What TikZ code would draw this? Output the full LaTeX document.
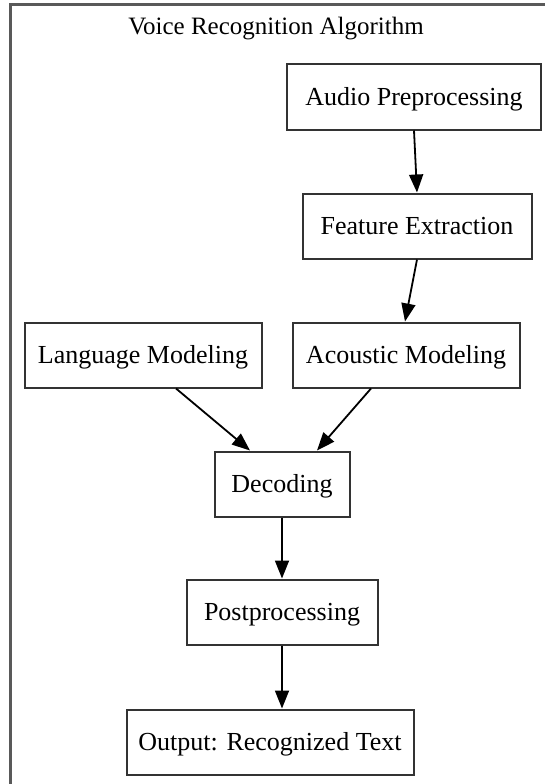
\documentclass[tikz,border=0pt]{standalone}
\usepackage{fontspec}
\setmainfont{Liberation Serif}
\usetikzlibrary{arrows.meta}
\begin{document}
\begin{tikzpicture}[x=1pt,y=-1pt,
  box/.style={draw=black!80, line width=2pt, fill=white, minimum height=65pt, inner sep=0pt, text height=23pt, text depth=6pt, font=\fontsize{26}{30}\selectfont},
  conn/.style={line width=1.8pt, -{Triangle[length=18pt,width=14pt]}}]
\useasboundingbox (0,0) rectangle (545,784);
\clip (0,0) rectangle (545,784);
\draw[black!65, line width=3pt] (10,5) rectangle (580,820);
\node[font=\fontsize{25}{30}\selectfont] (title) at (276,29) {Voice Recognition Algorithm};
\node[box, minimum width=254pt] (audio) at (414,97) {Audio Preprocessing};
\node[box, minimum width=229pt] (feat) at (417,226) {Feature Extraction};
\node[box, minimum width=237pt] (lang) at (143,355) {Language Modeling};
\node[box, minimum width=227pt] (acou) at (406,355) {Acoustic Modeling};
\node[box, minimum width=135pt] (dec) at (282,484) {Decoding};
\node[box, minimum width=191pt] (post) at (282,612) {Postprocessing};
\node[box, minimum width=287pt] (out) at (270,742) {Output: Recognized Text};
\draw[conn] (audio.south -| 414,0) -- (feat.north -| 417,0);
\draw[conn] (feat.south -| 417,0) -- (acou.north -| 405,0);
\draw[conn] (lang.south -| 176,0) -- (dec.north -| 250,0);
\draw[conn] (acou.south -| 371,0) -- (dec.north -| 317,0);
\draw[conn] (dec) -- (post);
\draw[conn] (post.south -| 282,0) -- (out.north -| 282,0);
\end{tikzpicture}
\end{document}
